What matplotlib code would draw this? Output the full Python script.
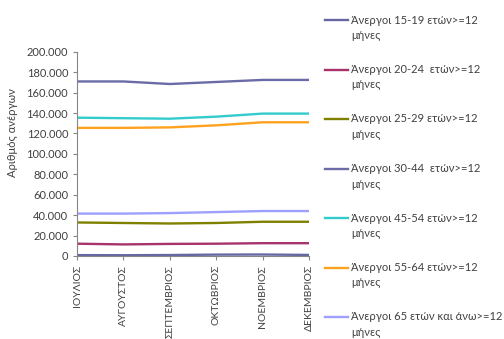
import matplotlib
matplotlib.use("Agg")
import matplotlib.pyplot as plt
from matplotlib.lines import Line2D
from matplotlib.ticker import FuncFormatter

plt.rcParams['font.family'] = ['Lato', 'DejaVu Sans']

months = ["ΙΟΥΛΙΟΣ", "ΑΥΓΟΥΣΤΟΣ", "ΣΕΠΤΕΜΒΡΙΟΣ", "ΟΚΤΩΒΡΙΟΣ", "ΝΟΕΜΒΡΙΟΣ", "ΔΕΚΕΜΒΡΙΟΣ"]

labels = [
    "Άνεργοι 15-19 ετών>=12",
    "Άνεργοι 20-24  ετών>=12",
    "Άνεργοι 25-29 ετών>=12",
    "Άνεργοι 30-44  ετών>=12",
    "Άνεργοι 45-54 ετών>=12",
    "Άνεργοι 55-64 ετών>=12",
    "Άνεργοι 65 ετών και άνω>=12",
]
label_tail = "μήνες"

s15_19 = [800, 700, 900, 1300, 1400, 1000]
s20_24 = [12000, 11300, 11800, 12000, 12500, 12500]
s25_29 = [32800, 32300, 31800, 32300, 33500, 33500]
s30_44 = [171000, 171000, 168500, 170500, 172500, 172500]
s45_54 = [135500, 135000, 134500, 136500, 139500, 139500]
s55_64 = [125500, 125500, 126000, 128000, 131000, 131000]
s65 = [41500, 41500, 42000, 43000, 44000, 44000]

series = [s15_19, s20_24, s25_29, s30_44, s45_54, s55_64, s65]
colors = ["#6666A3", "#A8336B", "#808000", "#6B6BA8", "#33CCCC", "#FFA21F", "#9F9FFF"]

W, H = 504, 339
fig = plt.figure(figsize=(W / 100, H / 100), dpi=100)
ax = fig.add_axes([0.153, 0.245, 0.46, 0.602])

x = list(range(len(months)))
for s, c in zip(series, colors):
    ax.plot(x, s, color=c, lw=1.7)

ax.set_xlim(0, len(months) - 1)
ax.set_ylim(0, 200000)
ax.set_yticks(range(0, 200001, 20000))
ax.yaxis.set_major_formatter(FuncFormatter(lambda v, p: f"{int(v):,}".replace(",", ".")))
ax.set_xticks(x)
ax.set_xticklabels(months, rotation=90, fontsize=7.5, color="#404040")
ax.tick_params(axis='y', labelsize=8, colors="#868686", labelcolor="#404040", length=3, width=0.8)
ax.tick_params(axis='x', colors="#868686", labelcolor="#404040", length=3, width=0.8)
for sp in ["top", "right"]:
    ax.spines[sp].set_visible(False)
for sp in ["left", "bottom"]:
    ax.spines[sp].set_color("#868686")
    ax.spines[sp].set_linewidth(0.8)

fig.text(0.024, 0.61, "Αριθμός ανέργων", rotation=90, fontsize=8, color="#404040",
         ha="center", va="center")

# legend (manual, two-line entries with handle beside first line)
for i, (c, l) in enumerate(zip(colors, labels)):
    yp = 20 + 49.5 * i
    yf = 1 - yp / H
    fig.add_artist(Line2D([325 / W, 348 / W], [yf, yf], color=c, lw=1.7,
                          transform=fig.transFigure))
    fig.text(351 / W, yf, l, fontsize=8, color="#404040", ha="left", va="center")
    fig.text(351 / W, 1 - (yp + 15.5) / H, label_tail, fontsize=8, color="#404040",
             ha="left", va="center")

fig.savefig("out.png", dpi=100)
